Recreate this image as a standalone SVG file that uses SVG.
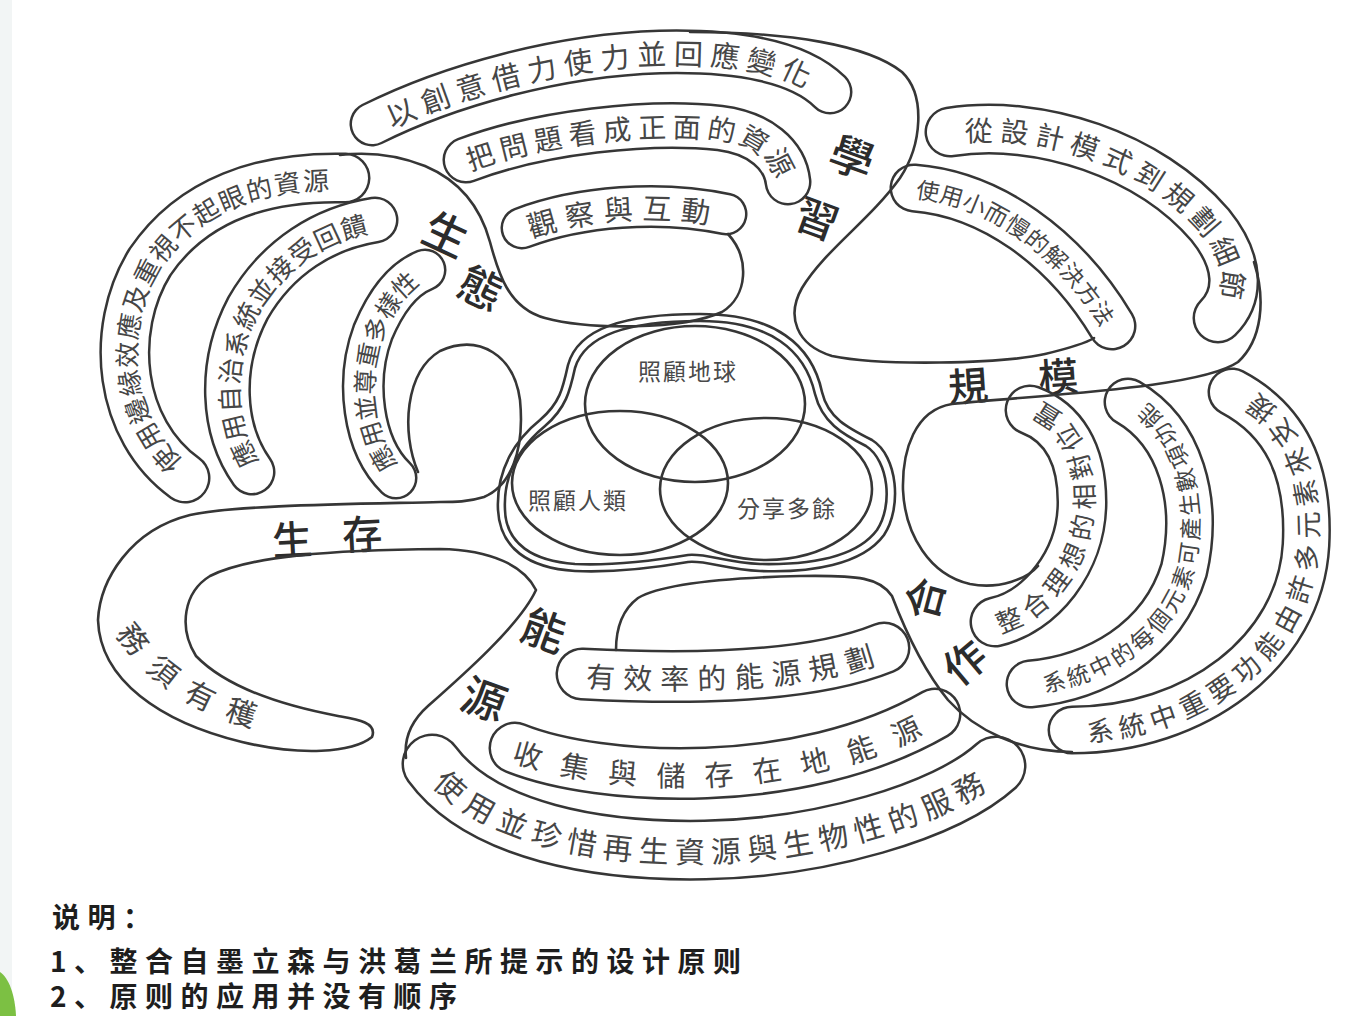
<svg xmlns="http://www.w3.org/2000/svg" width="1351" height="1016" viewBox="0 0 1351 1016">
<style>
.bo{fill:none;stroke:#363636;stroke-linecap:round;stroke-linejoin:round}
.bi{fill:none;stroke:#fff;stroke-linecap:round;stroke-linejoin:round}
.o38{stroke-width:43}.i38{stroke-width:38}
.o40{stroke-width:45}.i40{stroke-width:40}
.o42{stroke-width:47}.i42{stroke-width:42}
.o44{stroke-width:49}.i44{stroke-width:44}
.o46{stroke-width:51}.i46{stroke-width:46}
.o48{stroke-width:53}.i48{stroke-width:48}
.o56{stroke-width:61}.i56{stroke-width:56}
.ln{fill:none;stroke:#363636;stroke-width:2.6;stroke-linecap:round;stroke-linejoin:round}
.st{font-family:"Noto Sans CJK TC","Noto Sans CJK SC",sans-serif;fill:#464646;text-anchor:middle;dominant-baseline:central}
.lb{font-family:"Noto Sans CJK TC","Noto Sans CJK SC",sans-serif;fill:#2c2c2c;font-weight:500;text-anchor:middle;dominant-baseline:central}
.vn{font-family:"Noto Sans CJK TC","Noto Sans CJK SC",sans-serif;fill:#4a4a4a;font-size:23px;text-anchor:middle;dominant-baseline:central;letter-spacing:2px}
.lg{font-family:"Noto Sans CJK SC",sans-serif;font-weight:700;fill:#1e1e1e;font-size:28px;letter-spacing:7.5px}
.ring{fill:none;stroke:#363636;stroke-width:2.6}
</style>
<defs>
<path id="pL1" d="M 372,124 C 450,85 560,55 660,52 C 740,50 800,62 830,92"/>
<path id="pL2" d="M 466,160 C 540,132 650,120 720,128 C 760,133 785,155 788,182"/>
<path id="pL3" d="M 522,228 C 580,206 660,200 726,214"/>
<path id="pB1" d="M 185,478 C 118,430 108,330 150,262 C 192,200 262,176 345,178"/>
<path id="pB2" d="M 252,472 C 222,430 218,365 248,308 C 278,256 325,228 375,220"/>
<path id="pB3" d="M 396,478 C 362,445 355,380 373,332 C 388,296 405,278 425,270"/>
<path id="pS1" d="M 914,188 C 990,194 1064,246 1112,326"/>
<path id="pS2" d="M 950,132 C 1040,118 1150,155 1210,225 C 1240,262 1240,296 1218,318"/>
<path id="pC1" d="M 995,622 C 1040,612 1082,562 1082,502 C 1082,452 1062,422 1030,410"/>
<path id="pC2" d="M 1030,684 C 1095,678 1162,642 1184,570 C 1200,500 1180,432 1128,402"/>
<path id="pC3" d="M 1072,730 C 1195,730 1300,652 1306,545 C 1310,470 1285,420 1232,392"/>
<path id="pE1" d="M 582,674 C 660,678 800,682 884,648"/>
<path id="pE2" d="M 515,748 C 600,782 800,792 935,714"/>
<path id="pE3" d="M 432,764 C 482,832 600,852 705,850 C 820,848 945,812 996,766"/>
<path id="pT1" d="M 118,612 C 150,670 200,705 285,722"/>
</defs>
<rect x="0" y="0" width="1351" height="1016" fill="#ffffff"/>
<rect x="0" y="0" width="12" height="1016" fill="#f2f5f5"/>
<path d="M 0,972 C 9,978 15,995 16,1016 L 0,1016 Z" fill="#7cc043"/>

<g id="petal-learning">
<use href="#pL1" class="bo o40"/><use href="#pL1" class="bi i40"/>
<use href="#pL2" class="bo o42"/><use href="#pL2" class="bi i42"/>
<use href="#pL3" class="bo o38"/><use href="#pL3" class="bi i38"/>
<text class="st" font-size="29" letter-spacing="8"><textPath href="#pL1" startOffset="50%">以創意借力使力並回應變化</textPath></text>
<text class="st" font-size="28" letter-spacing="7"><textPath href="#pL2" startOffset="50%">把問題看成正面的資源</textPath></text>
<text class="st" font-size="29" letter-spacing="10"><textPath href="#pL3" startOffset="50%">觀察與互動</textPath></text>
<text class="lb" font-size="44" transform="translate(853,155) rotate(20)">學</text>
<text class="lb" font-size="42" transform="translate(818,216) rotate(20)">習</text>
</g>

<g id="petal-ecology">
<use href="#pB1" class="bo o46"/><use href="#pB1" class="bi i46"/>
<use href="#pB2" class="bo o42"/><use href="#pB2" class="bi i42"/>
<use href="#pB3" class="bo o38"/><use href="#pB3" class="bi i38"/>
<text class="st" font-size="26" letter-spacing="3"><textPath href="#pB1" startOffset="50%">使用邊緣效應及重視不起眼的資源</textPath></text>
<text class="st" font-size="26" letter-spacing="3"><textPath href="#pB2" startOffset="50%">應用自治系統並接受回饋</textPath></text>
<text class="st" font-size="25" letter-spacing="2"><textPath href="#pB3" startOffset="50%">應用並尊重多樣性</textPath></text>
<text class="lb" font-size="44" transform="translate(447,232) rotate(25)">生</text>
<text class="lb" font-size="44" transform="translate(482,286) rotate(25)">態</text>
</g>

<g id="petal-scale">
<use href="#pS1" class="bo o44"/><use href="#pS1" class="bi i44"/>
<use href="#pS2" class="bo o46"/><use href="#pS2" class="bi i46"/>
<text class="st" font-size="23" letter-spacing="1.5"><textPath href="#pS1" startOffset="50%">使用小而慢的解決方法</textPath></text>
<text class="st" font-size="28" letter-spacing="8"><textPath href="#pS2" startOffset="50%">從設計模式到規劃細節</textPath></text>
<text class="lb" font-size="40" transform="translate(968,384) rotate(-4)">規</text>
<text class="lb" font-size="40" transform="translate(1058,375) rotate(-4)">模</text>
</g>

<g id="petal-cooperation">
<use href="#pC1" class="bo o46"/><use href="#pC1" class="bi i46"/>
<use href="#pC2" class="bo o44"/><use href="#pC2" class="bi i44"/>
<use href="#pC3" class="bo o44"/><use href="#pC3" class="bi i44"/>
<text class="st" font-size="26" letter-spacing="4"><textPath href="#pC1" startOffset="50%">整合理想的相對位置</textPath></text>
<text class="st" font-size="23" letter-spacing="1.5"><textPath href="#pC2" startOffset="50%">系統中的每個元素可產生數項功能</textPath></text>
<text class="st" font-size="27" letter-spacing="5"><textPath href="#pC3" startOffset="50%">系統中重要功能由許多元素來支援</textPath></text>
<text class="lb" font-size="42" transform="translate(922,598) rotate(-75)">合</text>
<text class="lb" font-size="42" transform="translate(963,660) rotate(-40)">作</text>
</g>

<g id="petal-energy">
<use href="#pE1" class="bo o48"/><use href="#pE1" class="bi i48"/>
<use href="#pE2" class="bo o48"/><use href="#pE2" class="bi i48"/>
<use href="#pE3" class="bo o56"/><use href="#pE3" class="bi i56"/>
<text class="st" font-size="29" letter-spacing="8"><textPath href="#pE1" startOffset="50%">有效率的能源規劃</textPath></text>
<text class="st" font-size="29" letter-spacing="19"><textPath href="#pE2" startOffset="50%">收集與儲存在地能源</textPath></text>
<text class="st" font-size="30" letter-spacing="6"><textPath href="#pE3" startOffset="50%">使用並珍惜再生資源與生物性的服務</textPath></text>
<text class="lb" font-size="44" transform="translate(545,628) rotate(20)">能</text>
<text class="lb" font-size="44" transform="translate(485,697) rotate(20)">源</text>
</g>

<g id="petal-survival">
<text class="st" font-size="30" letter-spacing="14"><textPath href="#pT1" startOffset="50%">務須有穫</textPath></text>
<text class="lb" font-size="40" transform="translate(292,538) rotate(-3)">生</text>
<text class="lb" font-size="40" transform="translate(362,532) rotate(-3)">存</text>
</g>

<g id="connectors">
<path class="ln" d="M 690,32 C 790,32 868,45 902,72 C 926,95 922,145 900,178 C 870,220 825,250 802,288 C 786,316 796,345 832,356 C 880,366 1000,364 1045,354 C 1070,348 1086,343 1094,338"/>
<path class="ln" d="M 728,234 C 750,258 748,296 722,312 C 682,330 590,330 545,318 C 508,308 498,272 490,242 C 480,205 458,180 425,166 C 395,154 365,152 340,155"/>
<path class="ln" d="M 418,472 C 401,432 405,372 440,351 C 480,333 514,356 520,400 C 525,452 510,486 484,497 C 468,502 455,502 440,502 C 360,504 232,505 190,515 C 130,530 100,580 98,620 C 100,680 160,722 242,742 C 300,756 352,753 372,737 C 378,722 355,719 338,716 C 280,705 225,686 196,656 C 178,627 184,592 210,576 C 250,556 330,550 440,549 C 492,550 524,566 536,590 C 520,625 462,676 428,706 C 410,722 404,740 406,758"/>
<path class="ln" d="M 1072,752 C 1020,752 975,730 948,700 C 925,672 905,630 892,596 C 880,578 860,575 800,576 C 720,578 660,585 638,598 C 622,610 616,630 616,650"/>
<path class="ln" d="M 1254,262 C 1266,300 1262,340 1238,362 C 1200,388 1050,394 952,404 C 915,410 902,450 903,490 C 905,535 930,575 970,584 C 1000,590 1028,578 1038,566"/>
</g>

<g id="center-venn">
<path class="ring" d="M 568,365 C 578,328 625,314 700,314 C 775,314 812,345 822,392 C 828,418 848,428 872,440 C 898,456 902,508 884,535 C 862,565 810,573 760,571 C 725,569 705,560 688,562 C 665,566 620,573 575,571 C 528,568 500,548 498,510 C 496,470 515,440 540,420 C 560,403 563,388 568,365 Z"/>
<path class="ring" d="M 575,368 C 585,335 628,321 700,321 C 770,321 805,350 815,394 C 822,422 842,434 866,446 C 889,461 893,506 877,530 C 856,558 808,565 760,564 C 725,562 705,553 688,555 C 664,559 620,566 575,564 C 533,561 506,544 505,510 C 503,474 521,446 545,426 C 566,408 570,391 575,368 Z"/>
<ellipse class="ring" cx="695" cy="404" rx="110" ry="78"/>
<ellipse class="ring" cx="620" cy="483" rx="108" ry="72"/>
<ellipse class="ring" cx="766" cy="489" rx="106" ry="71"/>
<text class="vn" x="688" y="370">照顧地球</text>
<text class="vn" x="578" y="499">照顧人類</text>
<text class="vn" x="787" y="507">分享多餘</text>
</g>

<g id="legend">
<text class="lg" x="52" y="928" font-size="26" letter-spacing="3">说明：</text>
<text class="lg" x="50" y="972">1、整合自墨立森与洪葛兰所提示的设计原则</text>
<text class="lg" x="50" y="1007">2、原则的应用并没有顺序</text>
</g>
</svg>
